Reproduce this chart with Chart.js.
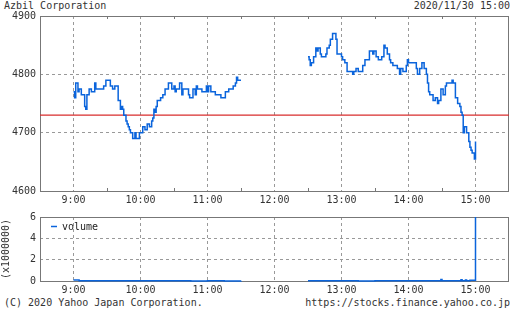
<!DOCTYPE html>
<html>
<head>
<meta charset="utf-8">
<script src="https://cdn.jsdelivr.net/npm/chart.js@4.4.0/dist/chart.umd.min.js"></script>
<style>
  body { margin: 0; background: #fff; width: 512px; height: 310px; position: relative; overflow: hidden;
         font-family: "DejaVu Sans Mono", monospace; font-size: 10px; color: #333; }
  .txt { position: absolute; white-space: pre; line-height: 12px; }
  #price { position: absolute; left: 0; top: 0; }
  #vol { position: absolute; left: 0; top: 207px; }
</style>
</head>
<body>
<div class="txt" style="left:4px;top:0px">Azbil Corporation</div>
<div class="txt" style="right:2px;top:0px">2020/11/30 15:00</div>
<canvas id="price" width="512" height="207"></canvas>
<canvas id="vol" width="512" height="90"></canvas>
<div class="txt" style="left:4px;top:297px">(C) 2020 Yahoo Japan Corporation.</div>
<div class="txt" style="right:2px;top:297px">https://stocks.finance.yahoo.co.jp</div>

<script>
// morning session (step prices, yen)
const amTimes = ['9:00','9:01','9:02','9:04','9:05','9:07','9:10','9:11','9:12','9:14','9:16','9:19','9:20','9:27','9:29',
  '9:33','9:35','9:37','9:40','9:42','9:43','9:44','9:45','9:47','9:48','9:49','9:50','9:51','9:53','9:55','9:56','9:59',
  '10:02','10:04','10:06','10:08','10:10','10:11','10:12','10:13','10:14','10:15','10:18','10:20','10:22','10:25','10:28',
  '10:30','10:31','10:32','10:35','10:37','10:38','10:43','10:44','10:47','10:49','10:50','10:51','10:55','10:59',
  '11:00','11:01','11:03','11:07','11:12','11:16','11:19','11:23','11:25','11:26','11:27','11:30'];
const amPrices = [4770,4760,4785,4770,4775,4765,4745,4740,4765,4775,4770,4785,4775,4780,4790,
  4780,4775,4780,4755,4740,4745,4740,4730,4720,4715,4710,4705,4700,4690,4700,4690,4700,
  4710,4705,4715,4710,4720,4725,4740,4735,4745,4755,4760,4765,4775,4785,4775,
  4780,4770,4775,4785,4765,4775,4765,4760,4775,4765,4780,4775,4770,4780,
  4770,4780,4770,4765,4760,4770,4775,4780,4785,4795,4790,4790];

// afternoon session
const pmTimes = ['12:30','12:31','12:32','12:33','12:35','12:37','12:38','12:39','12:41','12:42','12:46','12:47','12:49',
  '12:50','12:52','12:55','12:56','13:00','13:01','13:03','13:05','13:10','13:11','13:13','13:15','13:19','13:21','13:25',
  '13:28','13:29','13:31','13:33','13:36','13:38','13:39','13:41','13:43','13:44','13:46','13:50','13:52','13:53','13:55',
  '13:58','13:59','14:00','14:07','14:08','14:10','14:12','14:14','14:16','14:17','14:18','14:19','14:22','14:24','14:26',
  '14:27','14:29','14:31','14:33','14:34','14:39','14:40','14:42','14:44','14:46','14:47','14:48','14:49','14:50','14:52',
  '14:54','14:55','14:56','14:57','14:59','15:00'];
const pmPrices = [4830,4825,4815,4820,4830,4845,4840,4845,4835,4830,4835,4845,4850,
  4860,4870,4860,4835,4830,4825,4820,4805,4800,4805,4810,4805,4815,4825,4840,
  4835,4840,4830,4825,4830,4850,4845,4835,4825,4820,4815,4810,4800,4810,4805,
  4815,4825,4820,4810,4800,4810,4820,4810,4800,4785,4770,4765,4755,4760,4750,
  4755,4775,4765,4780,4785,4790,4785,4760,4750,4745,4735,4730,4700,4710,4700,
  4685,4675,4670,4665,4655,4685];

const prevClose = 4730;
const priceTicks = [4600, 4700, 4800, 4900];

// volume in millions of shares
const volTimes = ['9:00','9:05','9:15','9:30','9:45','10:00','10:15','10:30','10:45','11:00','11:15','11:30','12:00',
  '12:30','12:45','13:00','13:15','13:30','13:45','14:00','14:15','14:29','14:30','14:45','14:47','14:48','14:51','14:52',
  '14:55','15:00'];
const volValues = [0.09,0.03,0.02,0.02,0.03,0.03,0.02,0.02,0.01,0.02,0.01,0.02,null,
  0.03,0.02,0.02,0.01,0.02,0.02,0.02,0.03,0.15,0.03,0.03,0.12,0.03,0.10,0.03,
  0.07,6.3];
const volTicks = [0, 2, 4, 6];

const BLUE = '#0a64dc';
const FONT = { family: 'DejaVu Sans Mono', size: 10 };

function toMin(s) { const p = s.split(':'); return (+p[0]) * 60 + (+p[1]); }
function points(times, vals) { return times.map((t, i) => ({ x: toMin(t), y: vals[i] })); }

const priceData = points(amTimes, amPrices)
  .concat([{ x: toMin('12:00'), y: null }], points(pmTimes, pmPrices));

function xAxis() {
  return {
    type: 'linear', min: toMin('8:30'), max: toMin('15:30'),
    afterFit: s => { s.height = 16; },
    ticks: { stepSize: 30, autoSkip: false, maxRotation: 0, padding: 3, color: '#333', font: FONT,
      callback: v => v % 60 === 0 ? (v / 60) + ':00' : '' },
    grid: { drawTicks: false, lineWidth: 1,
      color: c => (c.tick && c.tick.value % 60 === 0 && c.tick.value > 510 && c.tick.value < 930) ? '#999' : 'rgba(0,0,0,0)' },
    border: { display: false, dash: [3, 3] }
  };
}

function yAxis(ticks, extra) {
  return Object.assign({
    min: ticks[0], max: ticks[ticks.length - 1],
    afterFit: s => { s.width = 40; },
    afterBuildTicks: s => { s.ticks = ticks.map(v => ({ value: v })); },
    ticks: { padding: 4, color: '#333', font: FONT, callback: v => String(v) },
    grid: { drawTicks: false, lineWidth: 1,
      color: c => (c.tick && c.tick.value !== ticks[0] && c.tick.value !== ticks[ticks.length - 1]) ? '#999' : 'rgba(0,0,0,0)' },
    border: { display: false, dash: [3, 3] }
  }, extra || {});
}

// box around plot, plus half-hour tick marks
const frame = {
  id: 'frame',
  beforeDatasetsDraw(chart, args, opts) {
    const { ctx, chartArea: a } = chart;
    const x = chart.scales.x;
    ctx.save();
    ctx.strokeStyle = '#777';
    ctx.lineWidth = 1;
    ctx.strokeRect(a.left + 0.5, a.top + 0.5, a.right - a.left - 1, a.bottom - a.top);
    if (opts.minor) {
      ctx.beginPath();
      for (let v = 570; v <= 870; v += 60) {
        const px = Math.round(x.getPixelForValue(v)) + 0.5;
        ctx.moveTo(px, a.bottom); ctx.lineTo(px, a.bottom - 3);
        ctx.moveTo(px, a.top); ctx.lineTo(px, a.top + 3);
      }
      ctx.stroke();
    }
    ctx.restore();
  }
};

const volLegend = {
  id: 'volLegend',
  afterDraw(chart) {
    const { ctx, chartArea: a } = chart;
    ctx.save();
    ctx.strokeStyle = BLUE;
    ctx.lineWidth = 1.5;
    ctx.beginPath();
    ctx.moveTo(a.left + 11, a.top + 9.5); ctx.lineTo(a.left + 17, a.top + 9.5);
    ctx.stroke();
    ctx.fillStyle = '#222';
    ctx.font = '10px "DejaVu Sans Mono"';
    ctx.textBaseline = 'middle';
    ctx.fillText('volume', a.left + 22, a.top + 10);
    ctx.restore();
  }
};

new Chart(document.getElementById('price'), {
  type: 'line',
  data: {
    datasets: [{
      data: priceData,
      borderColor: BLUE, borderWidth: 1.5, pointRadius: 0, stepped: true, spanGaps: false
    }, {
      data: [{ x: toMin('8:30'), y: prevClose }, { x: toMin('15:30'), y: prevClose }],
      borderColor: '#d82c2c', borderWidth: 1.4, pointRadius: 0
    }]
  },
  options: {
    responsive: false, animation: false,
    layout: { padding: { top: 16, right: 1, left: 0, bottom: 0 } },
    scales: { x: xAxis(), y: yAxis(priceTicks) },
    plugins: { legend: { display: false }, tooltip: { enabled: false }, frame: { minor: true } }
  },
  plugins: [frame]
});

new Chart(document.getElementById('vol'), {
  type: 'line',
  data: {
    datasets: [{
      label: 'volume',
      data: points(volTimes, volValues),
      borderColor: BLUE, borderWidth: 1.5, pointRadius: 0, stepped: true, spanGaps: false,
      clip: { left: 0, top: 0, right: 0, bottom: 3 }
    }]
  },
  options: {
    responsive: false, animation: false,
    layout: { padding: { top: 9, right: 1, left: 0, bottom: 0 } },
    scales: {
      x: xAxis(),
      y: yAxis(volTicks, { title: { display: true, text: '(x1000000)', color: '#333', font: FONT, padding: 0 } })
    },
    plugins: { legend: { display: false }, tooltip: { enabled: false }, frame: { minor: false } }
  },
  plugins: [frame, volLegend]
});
</script>
</body>
</html>
